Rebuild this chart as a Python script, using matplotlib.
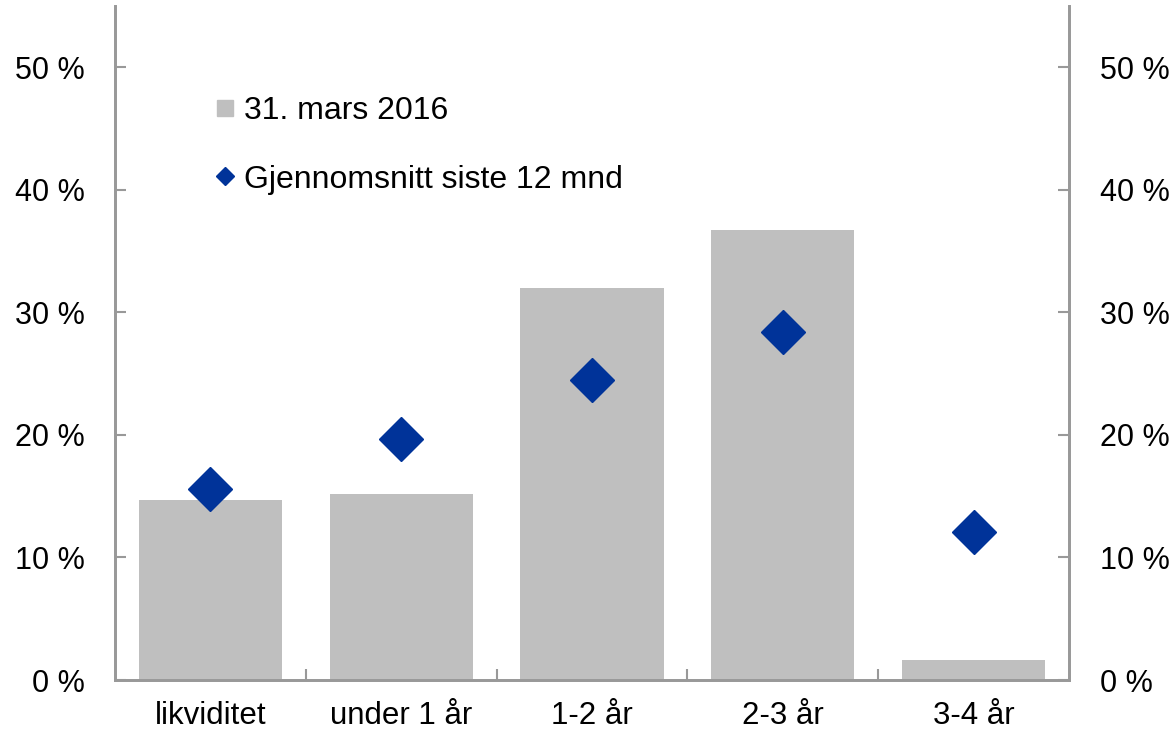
import matplotlib.pyplot as plt
from matplotlib.lines import Line2D
from matplotlib.ticker import FuncFormatter

plt.rcParams['font.family'] = ['Liberation Sans', 'DejaVu Sans']

categories = ['likviditet', 'under 1 år', '1-2 år', '2-3 år', '3-4 år']
mars_2016 = [14.7, 15.2, 32.0, 36.75, 1.6]
snitt_12m = [15.6, 19.7, 24.5, 28.4, 12.1]

grey = '#bfbfbf'
blue = '#003399'
spine_col = '#999999'

fig = plt.figure(figsize=(11.73, 7.32), dpi=100)
ax = fig.add_axes([115 / 1173, 52 / 732, 954 / 1173, 674 / 732])

x = range(len(categories))
ax.bar(x, mars_2016, width=0.75, color=grey, zorder=1)
ax.plot(x, snitt_12m, linestyle='none', marker='D', markersize=22.9,
        color=blue, zorder=3)

ax.set_xlim(-0.5, 4.5)
ax.set_ylim(0, 55)
ax.set_yticks([0, 10, 20, 30, 40, 50])
fmt = FuncFormatter(lambda v, p: f'{v:.0f} %')
ax.yaxis.set_major_formatter(fmt)

ax.set_xticks(list(x))
ax.set_xticklabels(categories)
ax.set_xticks([i + 0.5 for i in range(4)], minor=True)
ax.tick_params(axis='x', which='major', length=0, labelsize=22.5, pad=15)
ax.tick_params(axis='x', which='minor', direction='in', length=8,
               color=spine_col, width=1.5)
ax.tick_params(axis='y', direction='in', length=8, color=spine_col,
               width=1.5, labelsize=22, pad=22)

ax2 = ax.twinx()
ax2.set_ylim(ax.get_ylim())
ax2.set_yticks([0, 10, 20, 30, 40, 50])
ax2.yaxis.set_major_formatter(fmt)
ax2.tick_params(axis='y', direction='in', length=8, color=spine_col,
                width=1.5, labelsize=22, pad=22)

for a in (ax, ax2):
    a.spines['top'].set_visible(False)
    for s in ('left', 'right', 'bottom'):
        a.spines[s].set_color(spine_col)
        a.spines[s].set_linewidth(2)

handles = [
    Line2D([], [], linestyle='none', marker='s', markersize=11, color=grey),
    Line2D([], [], linestyle='none', marker='D', markersize=9.5, color=blue),
]
ax.legend(handles, ['31. mars 2016', 'Gjennomsnitt siste 12 mnd'],
          loc='upper left', bbox_to_anchor=(0.088, 0.885), frameon=False,
          fontsize=23, handlelength=0.8, handletextpad=0.2,
          labelspacing=1.2, borderaxespad=0)

fig.savefig('out.png', dpi=100)
